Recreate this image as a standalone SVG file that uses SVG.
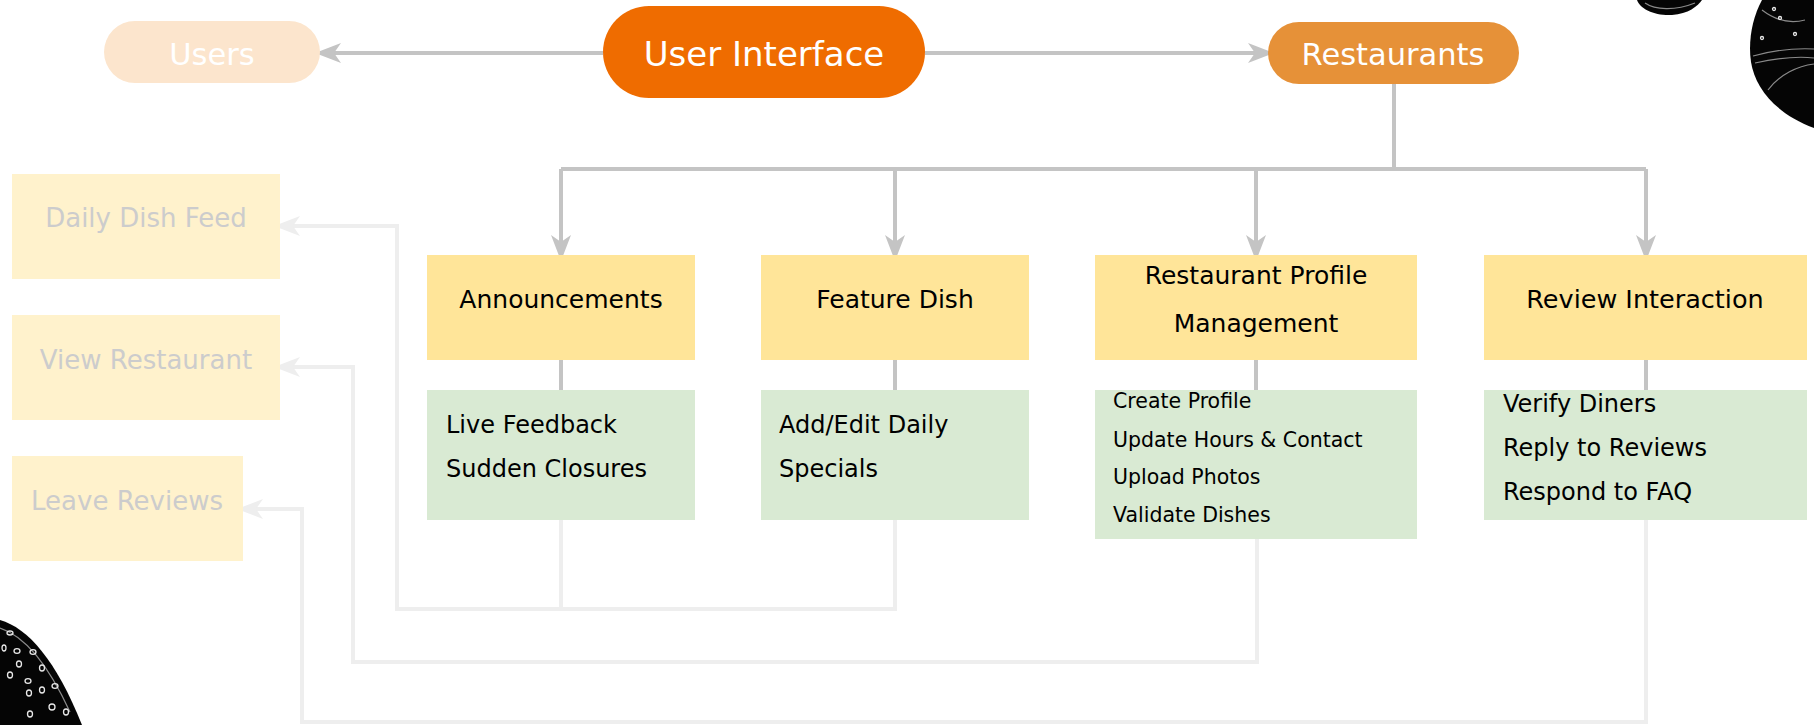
<svg xmlns="http://www.w3.org/2000/svg" width="1814" height="725" viewBox="0 0 1814 725">
  <defs>
    <style>
      text { font-family: "DejaVu Sans", "Noto Sans", sans-serif; }
      .pill-text { fill: #ffffff; font-size: 30.5px; text-anchor: middle; }
      .head { fill: #000000; font-size: 25px; text-anchor: middle; }
      .item { fill: #000000; font-size: 24px; }
      .item-sm { fill: #000000; font-size: 20.5px; }
      .faded { fill: #cccccc; font-size: 26px; text-anchor: middle; }
      .feature { fill: #ffe599; }
      .detail { fill: #d9ead3; }
      .user-box { fill: #fff2cc; }
      .link { fill: none; stroke: #c4c4c4; stroke-width: 4; }
      .link-faint { fill: none; stroke: #eeeeee; stroke-width: 4; }
      .ink { fill: #050505; }
      .sheen { fill: none; stroke: #8a8a8a; stroke-width: 1.2; }
      .spot { fill: none; stroke: #e8e8e8; stroke-width: 1.3; }
    </style>
    <marker id="arrow" markerUnits="userSpaceOnUse" markerWidth="28" markerHeight="20" refX="20" refY="10" orient="auto">
      <path d="M0,0 L26,10 L0,20 L7,10 Z" fill="#c4c4c4"/>
    </marker>
    <marker id="arrow-faint" markerUnits="userSpaceOnUse" markerWidth="28" markerHeight="20" refX="20" refY="10" orient="auto">
      <path d="M0,0 L26,10 L0,20 L7,10 Z" fill="#eeeeee"/>
    </marker>
  </defs>

  <rect width="1814" height="725" fill="#ffffff"/>

  <!-- decorative engraved shapes in the corners -->
  <g id="decor">
    <path class="ink" d="M1637,0 C1640,9 1655,16 1672,15 C1688,14 1698,6 1702,0 Z"/>
    <path class="sheen" d="M1645,3 C1655,10 1675,11 1695,3"/>
    <path class="ink" d="M1762,0 C1752,18 1748,42 1751,62 C1755,88 1776,114 1814,128 V0 Z"/>
    <path class="sheen" d="M1753,56 C1775,50 1795,48 1814,49"/>
    <path class="sheen" d="M1755,63 C1778,58 1798,56 1814,58"/>
    <path class="sheen" d="M1768,90 C1780,74 1798,66 1814,64"/>
    <path class="sheen" d="M1762,10 C1775,20 1790,24 1805,20"/>
    <circle class="spot" cx="1774" cy="9" r="1.5"/>
    <circle class="spot" cx="1780" cy="18" r="1.5"/>
    <circle class="spot" cx="1795" cy="34" r="1.5"/>
    <circle class="spot" cx="1762" cy="38" r="1.5"/>
    <path class="ink" d="M0,620 C28,628 56,660 82,725 H0 Z"/>
    <path class="sheen" d="M0,628 C25,636 48,664 70,712"/>
    <g class="spot">
      <ellipse cx="10" cy="633" rx="3" ry="2"/>
      <ellipse cx="17" cy="651" rx="3" ry="2.3"/>
      <ellipse cx="33" cy="652" rx="3" ry="2.3"/>
      <ellipse cx="19" cy="664" rx="2.5" ry="3"/>
      <ellipse cx="42" cy="668" rx="2.5" ry="3"/>
      <ellipse cx="10" cy="675" rx="2.5" ry="3"/>
      <ellipse cx="28" cy="681" rx="3" ry="2.3"/>
      <ellipse cx="42" cy="690" rx="2.5" ry="3"/>
      <ellipse cx="55" cy="686" rx="3" ry="2.3"/>
      <ellipse cx="29" cy="693" rx="2.5" ry="3"/>
      <ellipse cx="52" cy="707" rx="3" ry="3"/>
      <ellipse cx="30" cy="714" rx="2.5" ry="3"/>
      <ellipse cx="66" cy="712" rx="2.5" ry="3"/>
      <ellipse cx="4" cy="648" rx="2" ry="3"/>
    </g>
  </g>

  <!-- connectors -->
  <g id="connectors">
    <path class="link" d="M603,53 H321" marker-end="url(#arrow)"/>
    <path class="link" d="M925,53 H1268" marker-end="url(#arrow)"/>
    <path class="link" d="M1394,84 V169"/>
    <path class="link" d="M561,169 H1646"/>
    <path class="link" d="M561,169 V255" marker-end="url(#arrow)"/>
    <path class="link" d="M895,169 V255" marker-end="url(#arrow)"/>
    <path class="link" d="M1256,169 V255" marker-end="url(#arrow)"/>
    <path class="link" d="M1646,169 V255" marker-end="url(#arrow)"/>
    <path class="link" d="M561,360 V390"/>
    <path class="link" d="M895,360 V390"/>
    <path class="link" d="M1256,360 V390"/>
    <path class="link" d="M1646,360 V390"/>
    <path class="link-faint" d="M561,520 V609"/>
    <path class="link-faint" d="M895,520 V609 H397 V226 H280" marker-end="url(#arrow-faint)"/>
    <path class="link-faint" d="M1257,539 V662 H353 V367 H280" marker-end="url(#arrow-faint)"/>
    <path class="link-faint" d="M1646,520 V722 H302 V509 H243" marker-end="url(#arrow-faint)"/>
  </g>

  <!-- top row -->
  <g id="users">
    <rect x="104" y="21" width="216" height="62" rx="31" fill="#fce5cd"/>
    <text class="pill-text" x="212" y="65">Users</text>
  </g>
  <g id="user-interface">
    <rect x="603" y="6" width="322" height="92" rx="46" fill="#ef6c00"/>
    <text class="pill-text" x="764" y="66" style="font-size:34px">User Interface</text>
  </g>
  <g id="restaurants">
    <rect x="1268" y="22" width="251" height="62" rx="31" fill="#e69138"/>
    <text class="pill-text" x="1393" y="65">Restaurants</text>
  </g>

  <!-- user-facing features -->
  <g id="daily-dish-feed">
    <rect class="user-box" x="12" y="174" width="268" height="105"/>
    <text class="faded" x="146" y="227">Daily Dish Feed</text>
  </g>
  <g id="view-restaurant">
    <rect class="user-box" x="12" y="315" width="268" height="105"/>
    <text class="faded" x="146" y="369">View Restaurant</text>
  </g>
  <g id="leave-reviews">
    <rect class="user-box" x="12" y="456" width="231" height="105"/>
    <text class="faded" x="127" y="510">Leave Reviews</text>
  </g>

  <!-- restaurant features -->
  <g id="announcements">
    <rect class="feature" x="427" y="255" width="268" height="105"/>
    <text class="head" x="561" y="308">Announcements</text>
  </g>
  <g id="announcements-detail">
    <rect class="detail" x="427" y="390" width="268" height="130"/>
    <text class="item" x="446" y="433">Live Feedback</text>
    <text class="item" x="446" y="477">Sudden Closures</text>
  </g>

  <g id="feature-dish">
    <rect class="feature" x="761" y="255" width="268" height="105"/>
    <text class="head" x="895" y="308">Feature Dish</text>
  </g>
  <g id="feature-dish-detail">
    <rect class="detail" x="761" y="390" width="268" height="130"/>
    <text class="item" x="779" y="433">Add/Edit Daily</text>
    <text class="item" x="779" y="477">Specials</text>
  </g>

  <g id="profile-management">
    <rect class="feature" x="1095" y="255" width="322" height="105"/>
    <text class="head" x="1256" y="284">Restaurant Profile</text>
    <text class="head" x="1256" y="332">Management</text>
  </g>
  <g id="profile-management-detail">
    <rect class="detail" x="1095" y="390" width="322" height="149"/>
    <text class="item-sm" x="1113" y="408">Create Profile</text>
    <text class="item-sm" x="1113" y="447">Update Hours &amp; Contact</text>
    <text class="item-sm" x="1113" y="484">Upload Photos</text>
    <text class="item-sm" x="1113" y="522">Validate Dishes</text>
  </g>

  <g id="review-interaction">
    <rect class="feature" x="1484" y="255" width="323" height="105"/>
    <text class="head" x="1645" y="308" style="font-size:25.5px">Review Interaction</text>
  </g>
  <g id="review-interaction-detail">
    <rect class="detail" x="1484" y="390" width="323" height="130"/>
    <text class="item" x="1503" y="412">Verify Diners</text>
    <text class="item" x="1503" y="456">Reply to Reviews</text>
    <text class="item" x="1503" y="500">Respond to FAQ</text>
  </g>
</svg>
